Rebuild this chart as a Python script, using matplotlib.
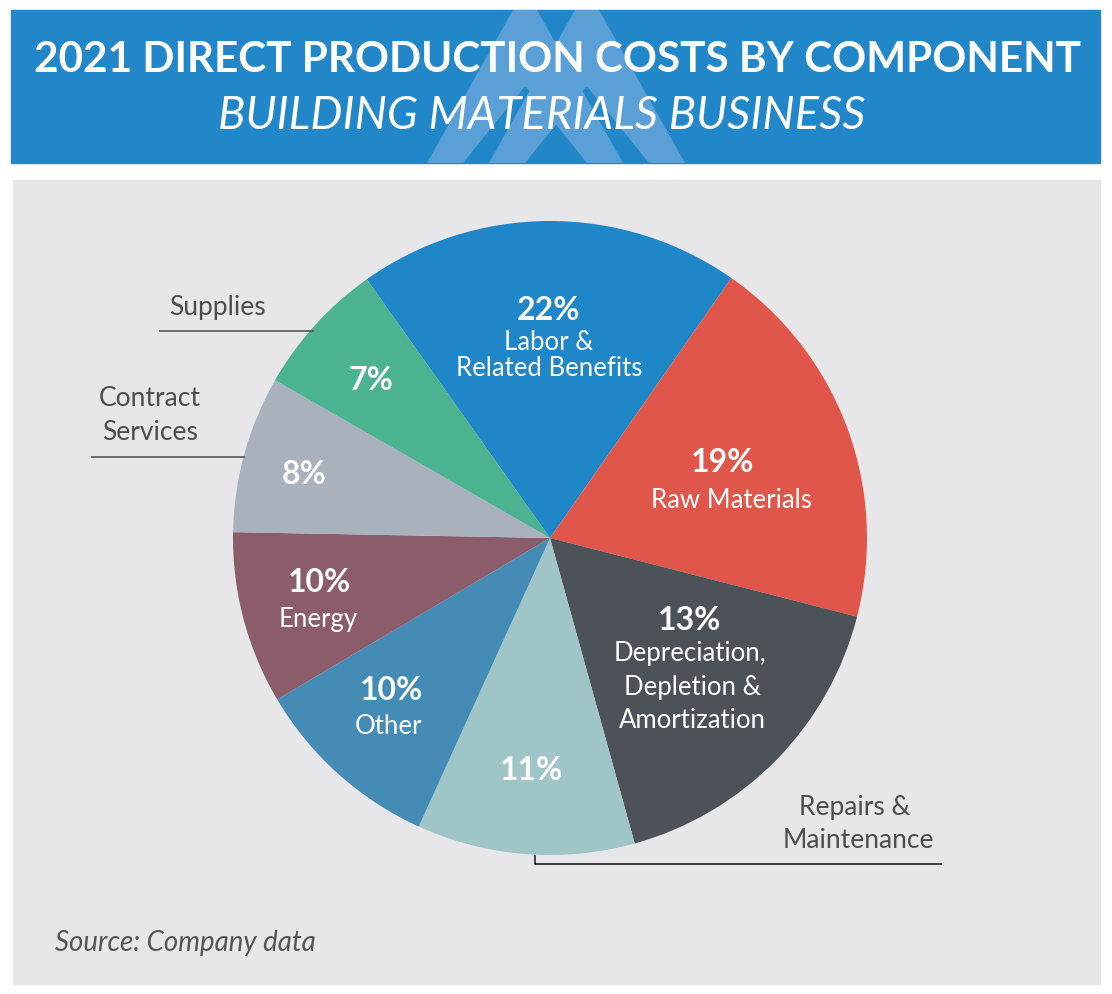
import matplotlib
matplotlib.use("Agg")
import matplotlib.pyplot as plt
from matplotlib.patches import Rectangle, Polygon

# slice data (clockwise from the Supplies/Labor boundary)
components = ["Labor & Related Benefits", "Raw Materials",
              "Depreciation, Depletion & Amortization", "Repairs & Maintenance",
              "Other", "Energy", "Contract Services", "Supplies"]
pct_labels = [22, 19, 13, 11, 10, 10, 8, 7]
# drawn share of each wedge, as measured on the picture
slice_share = [19.5, 19.3, 16.7, 11.1, 9.7, 8.8, 8.0, 6.9]
colors = ["#1F86C8", "#E0564A", "#4D5158", "#A0C5C7",
          "#448BB5", "#8B5D6B", "#A9B2BC", "#4BB38F"]

W, H = 1112, 994
FONT = "Lato"
DARK = "#4D4D50"

fig = plt.figure(figsize=(W / 100, H / 100), dpi=100)
fig.patch.set_facecolor("white")

# background axes in pixel coordinates
bg = fig.add_axes([0, 0, 1, 1], zorder=0)
bg.set_xlim(0, W)
bg.set_ylim(H, 0)
bg.axis("off")

# title band and the chevron watermark
bg.add_patch(Rectangle((11, 10), 1089, 153, color="#2187C9", zorder=0))
for apex in (525, 587):
    half = 98
    thick = 36
    outer = [(apex - half, 163), (apex - 12, 10), (apex + 12, 10), (apex + half, 163)]
    inner = [(apex + half - thick, 163), (apex, 163 - (153 * (half - thick) / half) + 20),
             (apex - half + thick, 163)]
    bg.add_patch(Polygon(outer + inner, closed=True, color="#5A9FD6", zorder=1, lw=0))

# grey panel
bg.add_patch(Rectangle((13, 180), 1087, 804, color="#E7E7E9", zorder=0))

# pie
cx, cy, r = 550, 538, 317
pax = fig.add_axes([(cx - r) / W, 1 - (cy + r) / H, 2 * r / W, 2 * r / H], zorder=1)
pax.pie(slice_share, colors=colors, startangle=125.3, counterclock=False,
        wedgeprops=dict(linewidth=0))
pax.set_xlim(-1, 1)
pax.set_ylim(-1, 1)
pax.axis("off")

# text layer on top, pixel coordinates
top = fig.add_axes([0, 0, 1, 1], zorder=2)
top.set_xlim(0, W)
top.set_ylim(H, 0)
top.axis("off")
top.patch.set_alpha(0)

renderer = fig.canvas.get_renderer()


def fit(t, width):
    bb = t.get_window_extent(renderer)
    t.set_fontsize(t.get_fontsize() * width / bb.width)


t = top.text(557, 60, "2021 DIRECT PRODUCTION COSTS BY COMPONENT", ha="center", va="center",
             color="white", fontsize=34, fontweight="bold", family=FONT)
fit(t, 1050)
t = top.text(542, 116, "BUILDING MATERIALS BUSINESS", ha="center", va="center",
             color="white", fontsize=28, fontstyle="italic", family=FONT)
fit(t, 648)

# labels inside the wedges
inside = [
    (549, 310, f"{pct_labels[0]}%", True), (549, 342, "Labor &", False),
    (549, 369, "Related Benefits", False),
    (723, 463, f"{pct_labels[1]}%", True), (731, 501, "Raw Materials", False),
    (690, 620, f"{pct_labels[2]}%", True), (690, 653, "Depreciation,", False),
    (692, 687, "Depletion &", False), (692, 721, "Amortization", False),
    (532, 771, f"{pct_labels[3]}%", True),
    (392, 690, f"{pct_labels[4]}%", True), (389, 727, "Other", False),
    (320, 583, f"{pct_labels[5]}%", True), (318, 619, "Energy", False),
    (304, 474, f"{pct_labels[6]}%", True),
    (371, 380, f"{pct_labels[7]}%", True),
]
for x, y, s, bold in inside:
    top.text(x, y, s, ha="center", va="center", color="white",
             fontsize=23 if bold else 18.5, fontweight="bold" if bold else "normal",
             family=FONT)

# outside labels with leader lines
for x, y, s in [(217, 307, "Supplies"), (150, 398, "Contract"), (150, 433, "Services"),
                (855, 807, "Repairs &"), (858, 841, "Maintenance")]:
    top.text(x, y, s, ha="center", va="center", color=DARK, fontsize=19, family=FONT)
top.plot([160, 313], [331, 331], color="#555555", lw=1.2)
top.plot([92, 244], [457, 457], color="#555555", lw=1.2)
top.plot([535, 535, 941], [856, 864, 864], color="#222222", lw=1.2)

t = top.text(55, 943, "Source: Company data", ha="left", va="center", color="#555558",
             fontsize=17, fontstyle="italic", family=FONT)
fit(t, 261)

fig.savefig("out.png", dpi=100, facecolor="white")
